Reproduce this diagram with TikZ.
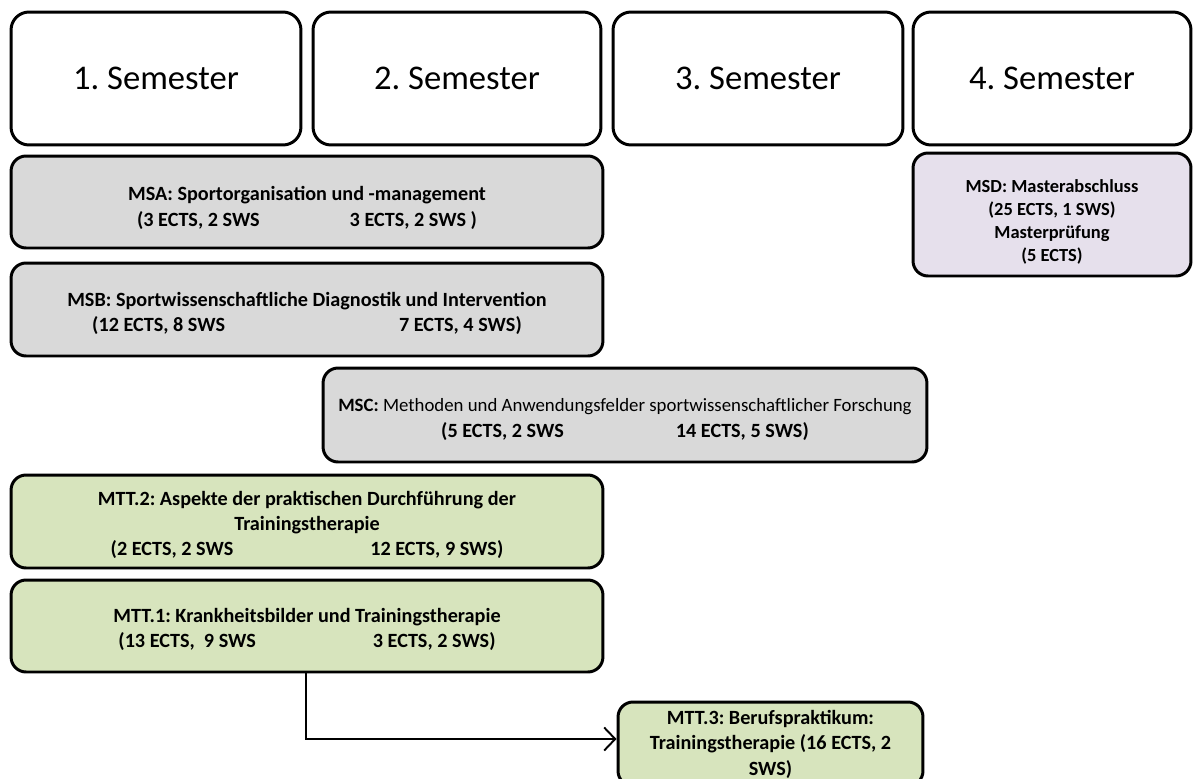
\documentclass[tikz,border=0pt]{standalone}
\usepackage{fontspec}
\setmainfont{Carlito}
\usetikzlibrary{arrows.meta}

\definecolor{modgrau}{RGB}{217,217,217}
\definecolor{modgruen}{RGB}{215,228,189}
\definecolor{modlila}{RGB}{230,224,236}

\newcommand{\oben}[1][12pt]{\rule{0pt}{#1}}

\begin{document}
\frenchspacing
\begin{tikzpicture}[
	x=0.02cm, y=-0.02cm,
	every node/.style={
		draw=black,
		line width=1.7pt,
		align=center,
		inner sep=0pt
	},
	sem/.style={
		rounded corners=3.6mm,
		fill=white,
		minimum height=2.66cm,
		font=\fontsize{19.7}{24}\selectfont
	},
	modul/.style={
		rounded corners=3mm,
		font=\fontsize{11.5}{14.5}\selectfont\bfseries
	},
	pfeil/.style={
		line width=1.1pt,
		-{Straight Barb[length=2.2mm,width=4.6mm]}
	}
]

\useasboundingbox (0,0) rectangle (1194,778);

\node[sem, minimum width=5.8cm] (S1) at (156,78.5) {1. Semester};
\node[sem, minimum width=5.76cm] (S2) at (457,78.5) {2. Semester};
\node[sem, minimum width=5.8cm] (S3) at (758,78.5) {3. Semester};
\node[sem, minimum width=5.56cm] (S4) at (1052,78.5) {4. Semester};

\node[modul, fill=modgrau, minimum width=11.84cm, minimum height=1.84cm] (MSA) at (307,202)
	{\oben[14.7pt]MSA: Sportorganisation und -management\\
	(3 ECTS, 2 SWS\hspace{1.8cm}3 ECTS, 2 SWS )};
\node[modul, fill=modgrau, minimum width=11.84cm, minimum height=1.86cm] (MSB) at (307,309.5)
	{\oben[12.7pt]MSB: Sportwissenschaftliche Diagnostik und Intervention\\
	(12 ECTS, 8 SWS\hspace{3.48cm}7 ECTS, 4 SWS)};
\node[modul, fill=modgrau, minimum width=12.08cm, minimum height=1.88cm] (MSC) at (625,415)
	{\oben[12.7pt]{\fontsize{10.7}{14.5}\selectfont MSC: \mdseries Methoden und Anwendungsfelder sportwissenschaftlicher Forschung}\\
	(5 ECTS, 2 SWS\hspace{2.24cm}14 ECTS, 5 SWS)};
\node[modul, fill=modlila, minimum width=5.56cm, minimum height=2.46cm,
	font=\fontsize{10.5}{13}\selectfont\bfseries] (MSD) at (1052,214.5)
	{\oben[15.7pt]MSD: Masterabschluss\\(25 ECTS, 1 SWS)\\Masterprüfung\\(5 ECTS)};

\node[modul, fill=modgruen, minimum width=11.84cm, minimum height=1.86cm] (MTT2) at (307,521.5)
	{\oben MTT.2: Aspekte der praktischen Durchführung der\\
	Trainingstherapie\\
	(2 ECTS, 2 SWS\hspace{2.74cm}12 ECTS, 9 SWS)};
\node[modul, fill=modgruen, minimum width=11.84cm, minimum height=1.84cm] (MTT1) at (307,626)
	{\oben MTT.1: Krankheitsbilder und Trainingstherapie\\
	(13 ECTS,\ \ 9 SWS\hspace{2.34cm}3 ECTS, 2 SWS)};
\node[modul, fill=modgruen, minimum width=6.1cm, minimum height=1.68cm] (MTT3) at (770.5,744)
	{MTT.3: Berufspraktikum:\\Trainingstherapie (16 ECTS, 2\\SWS)};

\coordinate (knick) at (306,739);
\draw[pfeil] (MTT1.south -| knick) -- (knick) -- (knick -| MTT3.west);

\end{tikzpicture}
\end{document}
